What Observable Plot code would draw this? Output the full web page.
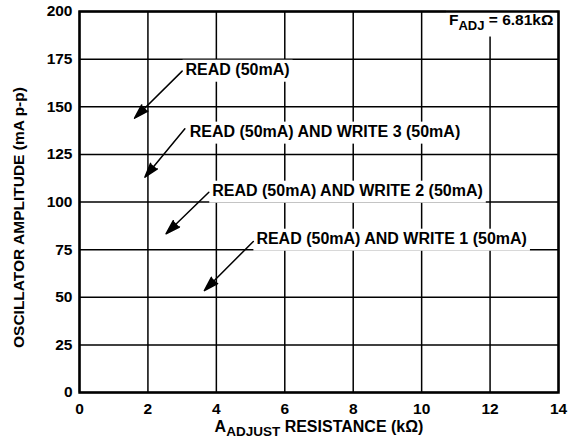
<!DOCTYPE html>
<html><head><meta charset="utf-8">
<script src="https://cdn.jsdelivr.net/npm/d3@7"></script>
<script src="https://cdn.jsdelivr.net/npm/@observablehq/plot@0.6"></script>
<style>body{margin:0;background:#fff} svg{display:block}</style>
</head><body>
<div id="chart"></div>
<script>
const xTicks = [0, 2, 4, 6, 8, 10, 12, 14];
const yTicks = [0, 25, 50, 75, 100, 125, 150, 175, 200];
const labelText = ["READ (50mA)", "READ (50mA) AND WRITE 3 (50mA)", "READ (50mA) AND WRITE 2 (50mA)", "READ (50mA) AND WRITE 1 (50mA)"];
const labelX = [3.10, 3.22, 3.88, 5.17];
const labelY = [169.5, 137, 106, 80.8];
const arrowX1 = [3.00, 3.08, 3.78, 5.08];
const arrowY1 = [168.7, 138.4, 105.1, 79.3];
const arrowX2 = [1.61, 1.91, 2.53, 3.65];
const arrowY2 = [144.0, 113.0, 83.3, 53.5];
const noteParts = ["F", "ADJ", " = 6.81k\u03A9"];
const noteX = [13.85];
const noteY = [195.5];
const xTitleParts = ["A", "ADJUST", " RESISTANCE (k\u03A9)"];
const yTitle = "OSCILLATOR AMPLITUDE (mA p-p)";

const labels = labelText.map((t, i) => ({t, x: labelX[i], y: labelY[i]}));
const arrows = arrowX1.map((x1, i) => ({x1, y1: arrowY1[i], x2: arrowX2[i], y2: arrowY2[i]}));
const note = [{t: noteParts.join(""), x: noteX[0], y: noteY[0]}];

const FONT = "'Liberation Sans', Arial, Helvetica, sans-serif";

const svg = Plot.plot({
  width: 573,
  height: 445,
  marginLeft: 79,
  marginRight: 15,
  marginTop: 11,
  marginBottom: 53,
  style: {fontFamily: FONT, fontSize: "15.5px", fontWeight: "bold", color: "black", background: "white"},
  x: {domain: [0, 14], ticks: xTicks, label: null},
  y: {domain: [0, 200], ticks: yTicks, label: null},
  marks: [
    Plot.gridX(xTicks, {stroke: "black", strokeOpacity: 1, strokeWidth: 1.5}),
    Plot.gridY(yTicks, {stroke: "black", strokeOpacity: 1, strokeWidth: 1.5}),
    Plot.text(labels, {x: "x", y: "y", text: "t", textAnchor: "start", fill: "black", fontSize: 16, fontWeight: "bold", className: "lbl"}),
    Plot.text(note, {x: "x", y: "y", text: "t", textAnchor: "end", fill: "black", fontSize: 15.5, fontWeight: "bold", className: "note"}),
    Plot.arrow(arrows, {x1: "x1", y1: "y1", x2: "x2", y2: "y2", stroke: "black", fill: "black", strokeWidth: 1.5, headAngle: 34, headLength: 15}),
    Plot.frame({stroke: "black", strokeWidth: 2.5}),
    Plot.axisX(xTicks, {tickSize: 0, tickPadding: 10, fontSize: 15.5, fontWeight: "bold", label: null}),
    Plot.axisY(yTicks, {tickSize: 0, tickPadding: 7, fontSize: 15.5, fontWeight: "bold", label: null}),
    Plot.text([xTitleParts.join("")], {frameAnchor: "bottom", dy: 39, textAnchor: "middle", fill: "black", fontSize: 16, fontWeight: "bold", className: "xtitle"}),
    Plot.text([yTitle], {frameAnchor: "left", dx: -60, dy: 146, rotate: -90, textAnchor: "start", fill: "black", fontSize: 15.5, fontWeight: "bold"})
  ]
});

document.getElementById("chart").append(svg);

function subscriptify(el, parts, mainSize, subSize, shift) {
  while (el.firstChild) el.removeChild(el.firstChild);
  const ns = "http://www.w3.org/2000/svg";
  const a = document.createElementNS(ns, "tspan"); a.textContent = parts[0]; a.setAttribute("font-size", mainSize);
  const b = document.createElementNS(ns, "tspan"); b.textContent = parts[1]; b.setAttribute("font-size", subSize); b.setAttribute("dy", shift);
  const c = document.createElementNS(ns, "tspan"); c.textContent = parts[2]; c.setAttribute("font-size", mainSize); c.setAttribute("dy", -shift);
  el.append(a, b, c);
}
svg.querySelectorAll("g.note text").forEach(el => subscriptify(el, noteParts, 15.5, 13, 4.5));
svg.querySelectorAll("g.xtitle text").forEach(el => subscriptify(el, xTitleParts, 16, 13.5, 4));

// white boxes behind annotation labels
svg.querySelectorAll("g.lbl text, g.note text").forEach(el => {
  const bb = el.getBBox();
  const r = document.createElementNS("http://www.w3.org/2000/svg", "rect");
  r.setAttribute("x", bb.x - 3);
  r.setAttribute("y", bb.y - 1);
  r.setAttribute("width", bb.width + 6);
  r.setAttribute("height", bb.height + 5);
  r.setAttribute("fill", "white");
  r.setAttribute("stroke", "none");
  const tr = el.getAttribute("transform");
  if (tr) r.setAttribute("transform", tr);
  el.parentNode.insertBefore(r, el);
});
svg.querySelectorAll('g[aria-label="arrow"] path').forEach(p => p.setAttribute("fill", "black"));
</script>
</body></html>
